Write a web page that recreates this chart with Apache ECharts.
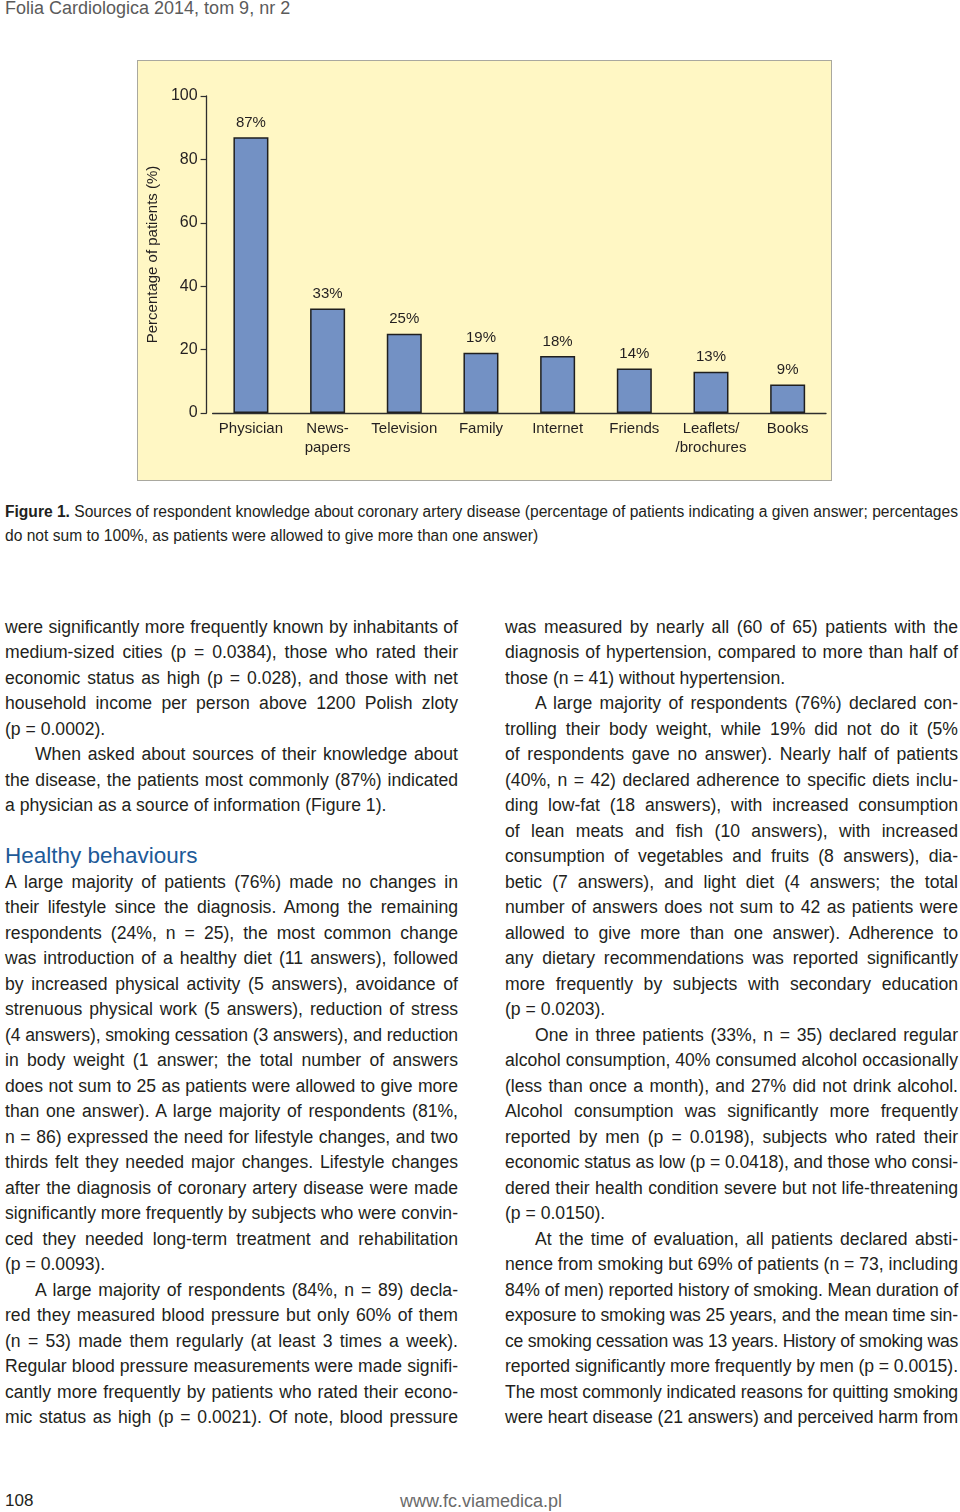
<!DOCTYPE html>
<html>
<head>
<meta charset="utf-8">
<script src="https://cdn.jsdelivr.net/npm/echarts@6/dist/echarts.min.js"></script>
<style>
html,body{margin:0;padding:0;background:#fff;}
body{width:960px;height:1512px;position:relative;overflow:hidden;font-family:"Liberation Sans",Arial,sans-serif;color:#231f20;}
#box{position:absolute;left:137px;top:60px;width:695px;height:421px;box-sizing:border-box;background:#fff7c4;border:1.5px solid #a9a89f;}
#chart{position:absolute;left:137px;top:60px;width:695px;height:421px;}
.ln{position:absolute;white-space:nowrap;}
</style>
</head>
<body>
<div id="box"></div>
<div id="chart"></div>
<script>
// ---------- chart data ----------
const categories = ['Physician', 'News-\npapers', 'Television', 'Family', 'Internet', 'Friends', 'Leaflets/\n/brochures', 'Books'];
const values = [87, 33, 25, 19, 18, 14, 13, 9];
const yMin = 0, yMax = 100, yStep = 20;
const yAxisTitle = 'Percentage of patients (%)';

// ---------- page text ----------
const headerText = 'Folia Cardiologica 2014, tom 9, nr 2';
const captionLines = [
  '<b>Figure 1.</b> Sources of respondent knowledge about coronary artery disease (percentage of patients indicating a given answer; percentages',
  'do not sum to 100%, as patients were allowed to give more than one answer)¶'
];
const headingText = 'Healthy behaviours';
// '|' = indented first line, '¶' = last line of paragraph (not justified)
const leftTop = [
  'were significantly more frequently known by inhabitants of',
  'medium-sized cities (p = 0.0384), those who rated their',
  'economic status as high (p = 0.028), and those with net',
  'household income per person above 1200 Polish zloty',
  '(p = 0.0002).¶',
  '|When asked about sources of their knowledge about',
  'the disease, the patients most commonly (87%) indicated',
  'a physician as a source of information (Figure 1).¶'
];
const leftBottom = [
  'A large majority of patients (76%) made no changes in',
  'their lifestyle since the diagnosis. Among the remaining',
  'respondents (24%, n = 25), the most common change',
  'was introduction of a healthy diet (11 answers), followed',
  'by increased physical activity (5 answers), avoidance of',
  'strenuous physical work (5 answers), reduction of stress',
  '(4 answers), smoking cessation (3 answers), and reduction',
  'in body weight (1 answer; the total number of answers',
  'does not sum to 25 as patients were allowed to give more',
  'than one answer). A large majority of respondents (81%,',
  'n = 86) expressed the need for lifestyle changes, and two',
  'thirds felt they needed major changes. Lifestyle changes',
  'after the diagnosis of coronary artery disease were made',
  'significantly more frequently by subjects who were convin-',
  'ced they needed long-term treatment and rehabilitation',
  '(p = 0.0093).¶',
  '|A large majority of respondents (84%, n = 89) decla-',
  'red they measured blood pressure but only 60% of them',
  '(n = 53) made them regularly (at least 3 times a week).',
  'Regular blood pressure measurements were made signifi-',
  'cantly more frequently by patients who rated their econo-',
  'mic status as high (p = 0.0021). Of note, blood pressure'
];
const rightCol = [
  'was measured by nearly all (60 of 65) patients with the',
  'diagnosis of hypertension, compared to more than half of',
  'those (n = 41) without hypertension.¶',
  '|A large majority of respondents (76%) declared con-',
  'trolling their body weight, while 19% did not do it (5%',
  'of respondents gave no answer). Nearly half of patients',
  '(40%, n = 42) declared adherence to specific diets inclu-',
  'ding low-fat (18 answers), with increased consumption',
  'of lean meats and fish (10 answers), with increased',
  'consumption of vegetables and fruits (8 answers), dia-',
  'betic (7 answers), and light diet (4 answers; the total',
  'number of answers does not sum to 42 as patients were',
  'allowed to give more than one answer). Adherence to',
  'any dietary recommendations was reported significantly',
  'more frequently by subjects with secondary education',
  '(p = 0.0203).¶',
  '|One in three patients (33%, n = 35) declared regular',
  'alcohol consumption, 40% consumed alcohol occasionally',
  '(less than once a month), and 27% did not drink alcohol.',
  'Alcohol consumption was significantly more frequently',
  'reported by men (p = 0.0198), subjects who rated their',
  'economic status as low (p = 0.0418), and those who consi-',
  'dered their health condition severe but not life-threatening',
  '(p = 0.0150).¶',
  '|At the time of evaluation, all patients declared absti-',
  'nence from smoking but 69% of patients (n = 73, including',
  '84% of men) reported history of smoking. Mean duration of',
  'exposure to smoking was 25 years, and the mean time sin-',
  'ce smoking cessation was 13 years. History of smoking was',
  'reported significantly more frequently by men (p = 0.0015).',
  'The most commonly indicated reasons for quitting smoking',
  'were heart disease (21 answers) and perceived harm from'
];
const footerPage = '108';
const footerUrl = 'www.fc.viamedica.pl';

// ---------- text layout helpers ----------
function addLine(html, x, cy, w, opts) {
  opts = opts || {};
  const fs = opts.fontSize || 17.6, lh = opts.lineHeight || 25;
  let indent = 0, justify = opts.justify !== false;
  if (html.charAt(0) === '|') { html = html.slice(1); indent = 30; }
  if (html.slice(-1) === '¶') { html = html.slice(0, -1); justify = false; }
  const d = document.createElement('div');
  d.className = 'ln';
  d.style.left = (x + indent) + 'px';
  d.style.top = (cy - lh / 2) + 'px';
  d.style.fontSize = fs + 'px';
  d.style.lineHeight = lh + 'px';
  d.style.color = opts.color || '#231f20';
  d.innerHTML = html;
  document.body.appendChild(d);
  const avail = w - indent;
  const nat = d.getBoundingClientRect().width;
  const txt = d.textContent;
  const spaces = (txt.match(/ /g) || []).length;
  if (nat > avail) {
    d.style.letterSpacing = ((avail - nat) / txt.length) + 'px';
  } else if (justify && spaces) {
    d.style.wordSpacing = ((avail - nat) / spaces) + 'px';
  }
  return d;
}

addLine(headerText, 5, 8, 400, {fontSize: 18, justify: false, color: '#5b5b5b'});
captionLines.forEach((t, i) => addLine(t, 5, 512 + i * 24, 953, {fontSize: 15.6, lineHeight: 24}));

const pitch = 25.5, y0 = 627;
leftTop.forEach((t, i) => addLine(t, 5, y0 + i * pitch, 453));
addLine(headingText, 5, y0 + 9 * pitch - 1, 453, {fontSize: 22.5, justify: false, color: '#1d5a98', lineHeight: 28});
leftBottom.forEach((t, i) => addLine(t, 5, y0 + (10 + i) * pitch, 453));
rightCol.forEach((t, i) => addLine(t, 505, y0 + i * pitch, 453));

addLine(footerPage, 5, 1500, 100, {fontSize: 17, justify: false});
const u = addLine(footerUrl, 0, 1501, 400, {fontSize: 18, justify: false, color: '#6a6a6a'});
u.style.left = (481 - u.getBoundingClientRect().width / 2) + 'px';

// ---------- chart ----------
const chart = echarts.init(document.getElementById('chart'), null, {renderer: 'canvas'});
const font = '"Liberation Sans", Arial, sans-serif';
chart.setOption({
  animation: false,
  backgroundColor: 'transparent',
  textStyle: {fontFamily: font},
  grid: {left: 75, top: 36, width: 614, height: 317, containLabel: false},
  xAxis: {
    type: 'category',
    data: categories,
    axisLine: {show: true, lineStyle: {color: '#2e2e2e', width: 1.3}},
    axisTick: {show: false},
    axisLabel: {color: '#231f20', fontSize: 15, margin: 6, lineHeight: 19, interval: 0, fontFamily: font}
  },
  yAxis: {
    type: 'value',
    min: yMin, max: yMax, interval: yStep,
    offset: 6,
    axisLine: {show: true, lineStyle: {color: '#2e2e2e', width: 1.3}},
    axisTick: {show: true, length: 6, lineStyle: {color: '#2e2e2e', width: 1.2}},
    splitLine: {show: false},
    axisLabel: {color: '#231f20', fontSize: 16, margin: 9, fontFamily: font},
    name: yAxisTitle,
    nameLocation: 'middle',
    nameGap: 40,
    nameTextStyle: {color: '#231f20', fontSize: 15, fontFamily: font}
  },
  series: [{
    type: 'bar',
    data: values,
    barWidth: 35,
    itemStyle: {color: '#7391c4', borderColor: '#1f1f1f', borderWidth: 1.5},
    label: {show: true, position: 'top', distance: 7, formatter: '{c}%', color: '#231f20', fontSize: 15, fontFamily: font}
  }]
});
</script>
</body>
</html>
